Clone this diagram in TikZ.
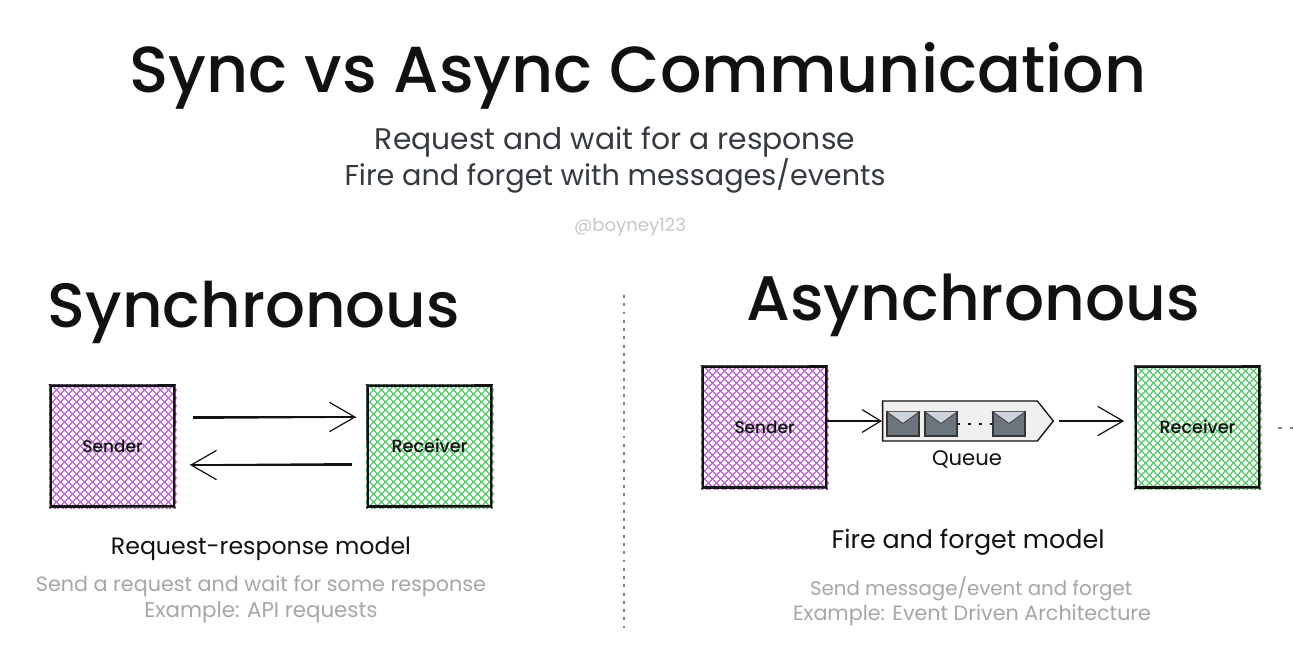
\documentclass[tikz,border=0pt]{standalone}
\usepackage{fontspec}
\setmainfont{Poppins}
\newfontfamily\headfont{Poppins Medium}
\usetikzlibrary{arrows.meta,shapes.symbols,backgrounds}
\definecolor{ink}{HTML}{111111}
\definecolor{soft}{HTML}{343A40}
\definecolor{muted}{HTML}{A6A6A6}
\definecolor{faint}{HTML}{C8C8C8}
\definecolor{hpurple}{HTML}{C25FDC}
\definecolor{hgreen}{HTML}{5CC76E}
\definecolor{envgray}{HTML}{6C757D}
\definecolor{envflapc}{HTML}{CED4DA}
\newcommand{\fitw}[2]{\resizebox{\dimexpr #1pt*3/4\relax}{!}{#2}}
\newcommand{\hatchbox}[2]{%
  \begin{pgfonlayer}{background}
  \begin{scope}
    \clip ([xshift=-1.5pt,yshift=-1.5pt]#1.south west) rectangle ([xshift=2pt,yshift=1.5pt]#1.north east);
    \begin{scope}[shift={(#1.center)}]
      \foreach \d in {-208,-200,...,208} {
        \draw[#2,line width=.95pt] ({\d-75},-75) -- ({\d+75},75);
        \draw[#2,line width=.95pt] ({\d-75},75) -- ({\d+75},-75);
      }
    \end{scope}
  \end{scope}
  \end{pgfonlayer}}
\newcommand{\roughbox}[1]{%
  \draw[ink,line width=.7pt] ([xshift=-2pt,yshift=.8pt]#1.north west) -- ([xshift=1.5pt,yshift=1pt]#1.north east);
  \draw[ink,line width=.7pt] ([xshift=-1pt,yshift=1.5pt]#1.north west) -- ([xshift=-.8pt,yshift=-2pt]#1.south west);
  \draw[ink,line width=.7pt] ([xshift=1pt,yshift=1.5pt]#1.north east) -- ([xshift=.7pt,yshift=-2pt]#1.south east);
  \draw[ink,line width=.8pt] ([xshift=-1.5pt,yshift=-1pt]#1.south west) -- ([xshift=1.5pt,yshift=-.8pt]#1.south east);}
\tikzset{
  x=0.75pt,y=-0.75pt,
  txt/.style={inner sep=0pt,outer sep=0pt,anchor=center},
  boxnode/.style={draw=ink,line width=1.1pt,minimum width=92pt,minimum height=90pt,inner sep=0pt,outer sep=0pt,text=ink,font=\headfont},
  barb/.style={-{Straight Barb[length=19pt,width=22pt,line width=.9pt]},draw=ink,line width=.9pt},
  barbs/.style={-{Straight Barb[length=14pt,width=17pt,line width=.9pt]},draw=ink,line width=.9pt},
  barbd/.style={draw=ink,line width=.55pt},
  qnode/.style={signal,signal to=east,signal pointer angle=103,draw=ink,line width=1pt,fill=black!6,minimum width=128pt,minimum height=30pt,inner sep=0pt},
  env/.style={draw=ink!85,line width=.9pt,fill=envgray,minimum width=24pt,minimum height=18pt,inner sep=0pt},
  flap/.style={draw=ink!85,line width=.5pt,fill=envflapc},
}
\newcommand{\envflap}[1]{\filldraw[flap] (#1.north west) -- ([yshift=-9pt]#1.north) -- (#1.north east) -- cycle;}
\begin{document}
\begin{tikzpicture}
\begin{pgfonlayer}{background}
\fill[white] (0,0) rectangle (1294,647);
\end{pgfonlayer}
\useasboundingbox (0,0) rectangle (1294,647);
% headings
\node[txt,text=ink] (title) at (638,76) {\fitw{1017}{\headfont Sync vs Async Communication}};
\node[txt,text=soft] (sub1) at (615,142) {\fitw{480}{Request and wait for a response}};
\node[txt,text=soft] (sub2) at (615,176) {\fitw{541}{Fire and forget with messages/events}};
\node[txt,text=faint] (handle) at (630,227) {\fitw{112}{@boyney123}};
\node[txt,text=ink] (synch) at (254,312) {\fitw{412}{\headfont Synchronous}};
\node[txt,text=ink] (asynch) at (973,305) {\fitw{453}{\headfont Asynchronous}};
% divider
\coordinate (d1) at (624,295);
\coordinate (d2) at (624,628);
\draw[gray,line width=1.1pt,dash pattern=on 2.2pt off 4pt] (d1) -- (d2);
% left boxes
\node[boxnode] (S1) at (112.5,446) {\fitw{60}{Sender}};
\node[boxnode] (R1) at (429.5,446) {\fitw{76}{Receiver}};
\hatchbox{S1}{hpurple}
\hatchbox{R1}{hgreen}
\roughbox{S1}
\roughbox{R1}
\coordinate (a1) at (193,417);
\coordinate (a2) at (356,417);
\coordinate (b1) at (352,465);
\coordinate (b2) at (190,465);
\draw[barb] (a1) -- (a2);
\draw[barbd] ([yshift=-1.2pt]a1) -- ([yshift=-.3pt]a2);
\draw[barb] (b1) -- (b2);
\draw[barbd] ([yshift=1.2pt]b1) -- ([yshift=.3pt]b2);
% left captions
\node[txt,text=ink] (cap1) at (261,549) {\fitw{300}{Request-response model}};
\node[txt,text=muted] (cap1a) at (261,586) {\fitw{450}{Send a request and wait for some response}};
\node[txt,text=muted] (cap1b) at (261,612) {\fitw{233}{Example: API requests}};
% right boxes
\node[boxnode] (S2) at (764.5,427) {\fitw{60}{Sender}};
\node[boxnode] (R2) at (1197.5,427) {\fitw{76}{Receiver}};
\hatchbox{S2}{hpurple}
\hatchbox{R2}{hgreen}
\roughbox{S2}
\roughbox{R2}
% queue
\node[qnode] (Q) at (960,421) {};
\node[env] (E1) at (903,424) {};
\node[env] (E2) at (941,424) {};
\node[env] (E3) at (1009,424) {};
\envflap{E1}
\envflap{E2}
\envflap{E3}
\draw[ink,line width=1pt,dash pattern=on 2pt off 6pt] (E2.east) -- (E3.west);
\node[txt,text=ink] (qlabel) at (967,459) {\fitw{70}{Queue}};
\draw[barbs] (S2.east |- Q.west) -- (Q.west);
\draw[barb,shorten <=4pt,shorten >=9pt] (Q.east) -- (R2.west |- Q.east);
\coordinate (t1) at (1278,428);
\coordinate (t2) at (1293,428);
\draw[gray,line width=1pt,dash pattern=on 3pt off 6pt] (t1) -- (t2);
% right captions
\node[txt,text=ink] (cap2) at (968,542) {\fitw{273}{Fire and forget model}};
\node[txt,text=muted] (cap2a) at (971,589) {\fitw{322}{Send message/event and forget}};
\node[txt,text=muted] (cap2b) at (972,615) {\fitw{358}{Example: Event Driven Architecture}};
\end{tikzpicture}
\end{document}
